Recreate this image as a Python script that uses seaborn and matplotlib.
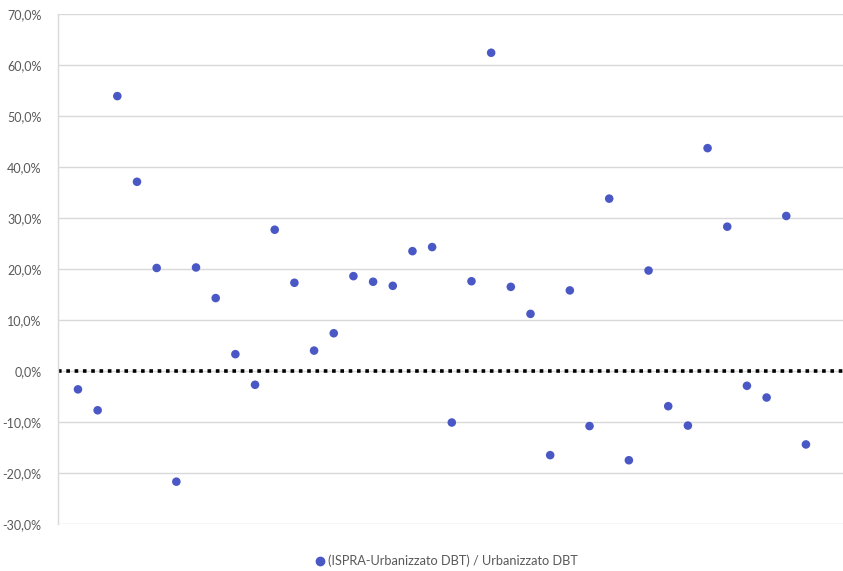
import numpy as np
import pandas as pd
import matplotlib
matplotlib.use("Agg")
import matplotlib.pyplot as plt
import seaborn as sns
from matplotlib.ticker import FuncFormatter

series_name = "(ISPRA-Urbanizzato DBT) / Urbanizzato DBT"
index = list(range(1, 39))
values = [-3.6, -7.7, 53.9, 37.1, 20.2, -21.7, 20.3, 14.3, 3.3, -2.7,
          27.7, 17.3, 4.0, 7.4, 18.6, 17.5, 16.7, 23.5, 24.3, -10.1,
          17.6, 62.4, 16.5, 11.2, -16.5, 15.8, -10.8, 33.8, -17.5, 19.7,
          -6.9, -10.7, 43.7, 28.3, -2.9, -5.2, 30.4, -14.4]
y_ticks = [-30, -20, -10, 0, 10, 20, 30, 40, 50, 60, 70]

df = pd.DataFrame({"idx": index, "val": np.array(values) / 100.0})

sns.set_theme(style="white")
plt.rcParams['font.family'] = ['Lato', 'DejaVu Sans']

fig = plt.figure(figsize=(8.43, 5.71), dpi=100)
ax = fig.add_axes([58.3/843, 1 - 524/571, 787/843, (524-14)/571])

for t in y_ticks:
    ax.axhline(t/100.0, color="#d9d9d9", lw=1.0, zorder=0)
ax.axhline(0, color="black", lw=2.6, ls=(0, (1, 1.3)), zorder=1)

sns.scatterplot(data=df, x="idx", y="val", ax=ax, color="#4a58c6",
                s=38, edgecolor="none", zorder=3, legend=False)

ax.set_xlim(0, 40)
ax.set_ylim(-0.30, 0.70)
ax.set_yticks([t/100.0 for t in y_ticks])
ax.yaxis.set_major_formatter(FuncFormatter(lambda v, p: f"{v*100:.1f}%".replace(".", ",")))
ax.set_xticks([])
ax.set_xlabel("")
ax.set_ylabel("")
ax.tick_params(axis="y", labelsize=9, colors="#595959", length=0, pad=12)
for s in ["top", "right", "bottom"]:
    ax.spines[s].set_visible(False)
ax.spines["left"].set_color("#d9d9d9")
ax.spines["left"].set_linewidth(1.0)

handle = plt.Line2D([], [], marker="o", ls="none", color="#4a58c6", markersize=6)
fig.legend([handle], [series_name], loc="center", bbox_to_anchor=(446/843, 1 - 561/571),
           frameon=False, fontsize=9.2, labelcolor="#595959", handletextpad=0.1,
           handlelength=1.0)

fig.savefig("out.png", dpi=100)
